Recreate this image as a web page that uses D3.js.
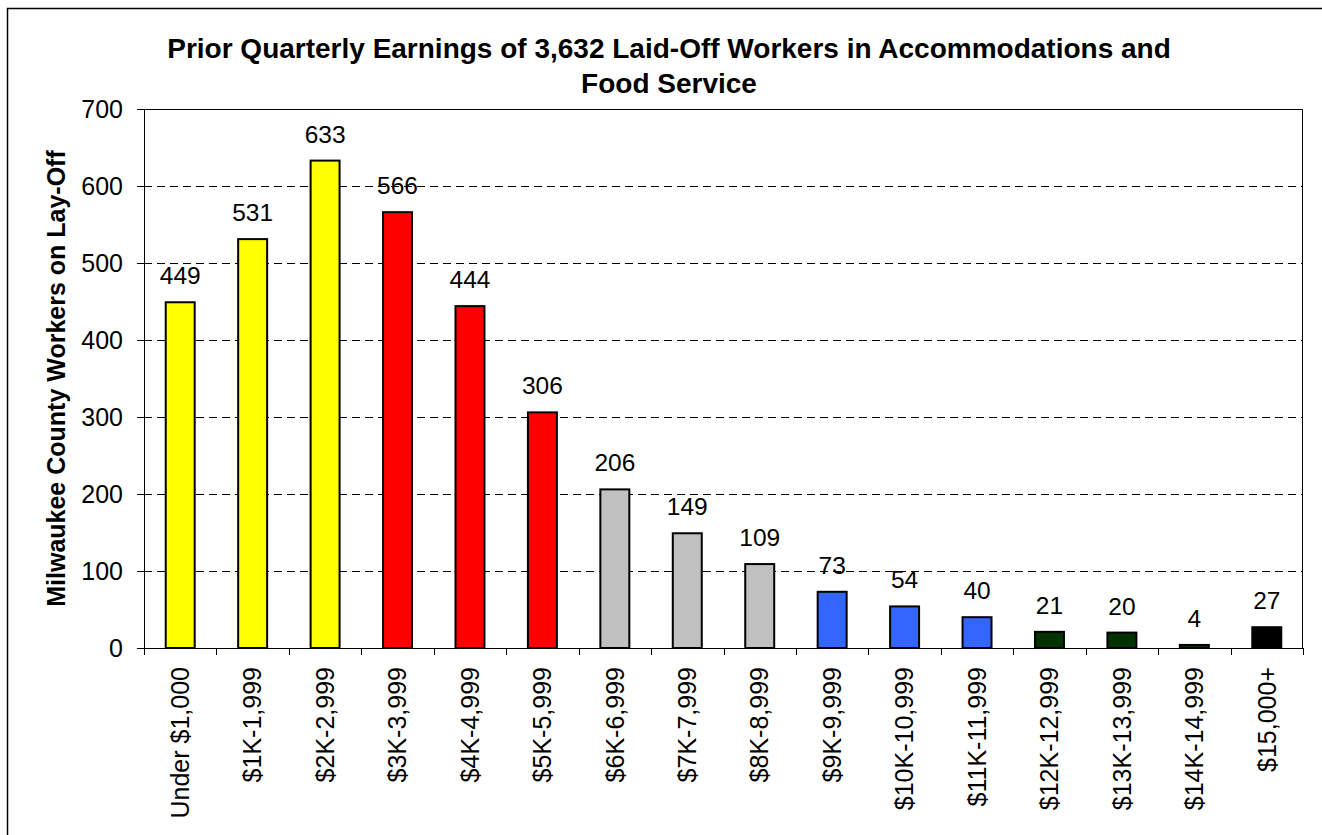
<!DOCTYPE html>
<html>
<head>
<meta charset="utf-8">
<script src="https://cdn.jsdelivr.net/npm/d3@7"></script>
<style>
  body { margin: 0; background: #fff; }
  svg { display: block; font-family: "Liberation Sans", Arial, sans-serif; }
</style>
</head>
<body>
<div id="chart"></div>
<script>
const categories = ['Under $1,000', '$1K-1,999', '$2K-2,999', '$3K-3,999', '$4K-4,999', '$5K-5,999',
  '$6K-6,999', '$7K-7,999', '$8K-8,999', '$9K-9,999', '$10K-10,999', '$11K-11,999',
  '$12K-12,999', '$13K-13,999', '$14K-14,999', '$15,000+'];
const workers = [449, 531, 633, 566, 444, 306, 206, 149, 109, 73, 54, 40, 21, 20, 4, 27];
const barColors = ['#FFFF00', '#FFFF00', '#FFFF00', '#FF0000', '#FF0000', '#FF0000',
  '#C0C0C0', '#C0C0C0', '#C0C0C0', '#3366FF', '#3366FF', '#3366FF',
  '#003300', '#003300', '#003300', '#000000'];
const yTicks = [0, 100, 200, 300, 400, 500, 600, 700];
const titleLines = ['Prior Quarterly Earnings of 3,632 Laid-Off Workers in Accommodations and', 'Food Service'];
const yTitle = 'Milwaukee County Workers on Lay-Off';

const width = 1322, height = 835;
const margin = { top: 109, right: 19, bottom: 187, left: 144 };
const chartWidth = width - margin.left - margin.right;
const chartHeight = height - margin.top - margin.bottom;
const font = '"Liberation Sans", Arial, sans-serif';

const svg = d3.select('#chart').append('svg')
  .attr('width', width)
  .attr('height', height);

// outer chart border
svg.append('rect')
  .attr('x', 7.5).attr('y', 8.5)
  .attr('width', width + 10).attr('height', height + 10)
  .attr('fill', 'none').attr('stroke', '#000').attr('stroke-width', 1.5);

const title = svg.append('text')
  .attr('text-anchor', 'middle')
  .attr('font-size', 28).attr('font-weight', 'bold');
titleLines.forEach((t, i) => {
  title.append('tspan').attr('x', 669).attr('y', 58 + i * 35).text(t);
});

svg.append('text')
  .attr('transform', `translate(65,${margin.top + chartHeight / 2}) rotate(-90)`)
  .attr('text-anchor', 'middle')
  .attr('font-size', 25).attr('font-weight', 'bold')
  .text(yTitle);

const chart = svg.append('g')
  .attr('transform', `translate(${margin.left},${margin.top})`);

const xScale = d3.scaleBand()
  .domain(categories)
  .range([0, chartWidth])
  .paddingInner(0.6).paddingOuter(0.3);

const yScale = d3.scaleLinear()
  .domain([0, 700])
  .range([chartHeight, 0]);

// gridlines
chart.append('g')
  .selectAll('line')
  .data(yTicks.filter(d => d > 0 && d < 700))
  .join('line')
  .attr('x1', 0).attr('x2', chartWidth)
  .attr('y1', d => Math.round(yScale(d)) + 0.5).attr('y2', d => Math.round(yScale(d)) + 0.5)
  .attr('stroke', '#000').attr('stroke-dasharray', '8,5');

// plot area border (top & right)
chart.append('path')
  .attr('d', `M0,0.5H${chartWidth - 0.5}V${chartHeight}`)
  .attr('fill', 'none').attr('stroke', '#000');

chart.selectAll('.bar')
  .data(workers)
  .join('rect')
  .attr('class', 'bar')
  .attr('x', (d, i) => xScale(categories[i]))
  .attr('y', d => yScale(d))
  .attr('width', xScale.bandwidth())
  .attr('height', d => chartHeight - yScale(d))
  .attr('fill', (d, i) => barColors[i])
  .attr('stroke', '#000').attr('stroke-width', 2);

chart.selectAll('.val')
  .data(workers)
  .join('text')
  .attr('class', 'val')
  .attr('x', (d, i) => xScale(categories[i]) + xScale.bandwidth() / 2)
  .attr('y', d => yScale(d) - 18)
  .attr('text-anchor', 'middle')
  .attr('font-size', 24.5)
  .text(d => d);

// y axis
const yAxis = d3.axisLeft(yScale).tickValues(yTicks).tickSize(7).tickPadding(14);
chart.append('g').attr('class', 'y-axis').call(yAxis)
  .call(g => g.select('.domain').attr('d', `M0.5,0V${chartHeight}`))
  .call(g => g.selectAll('text').attr('font-size', 25).attr('font-family', font).attr('fill', '#000'));

// x axis
const step = xScale.step();
const xAxis = d3.axisBottom(xScale).tickSize(0).tickPadding(0);
const xg = chart.append('g').attr('class', 'x-axis')
  .attr('transform', `translate(0,${chartHeight})`)
  .call(xAxis);
xg.select('.domain').attr('d', `M0,0.5H${chartWidth}`);
xg.selectAll('text')
  .attr('font-size', 25).attr('font-family', font).attr('fill', '#000')
  .attr('text-anchor', 'end')
  .attr('transform', 'translate(0,19) rotate(-90)')
  .attr('x', 0).attr('y', 0).attr('dy', '0.35em');
xg.append('g').selectAll('line')
  .data(d3.range(categories.length + 1))
  .join('line')
  .attr('x1', i => Math.round(i * step) + 0.5).attr('x2', i => Math.round(i * step) + 0.5)
  .attr('y1', 0).attr('y2', 7)
  .attr('stroke', '#000');
</script>
</body>
</html>
